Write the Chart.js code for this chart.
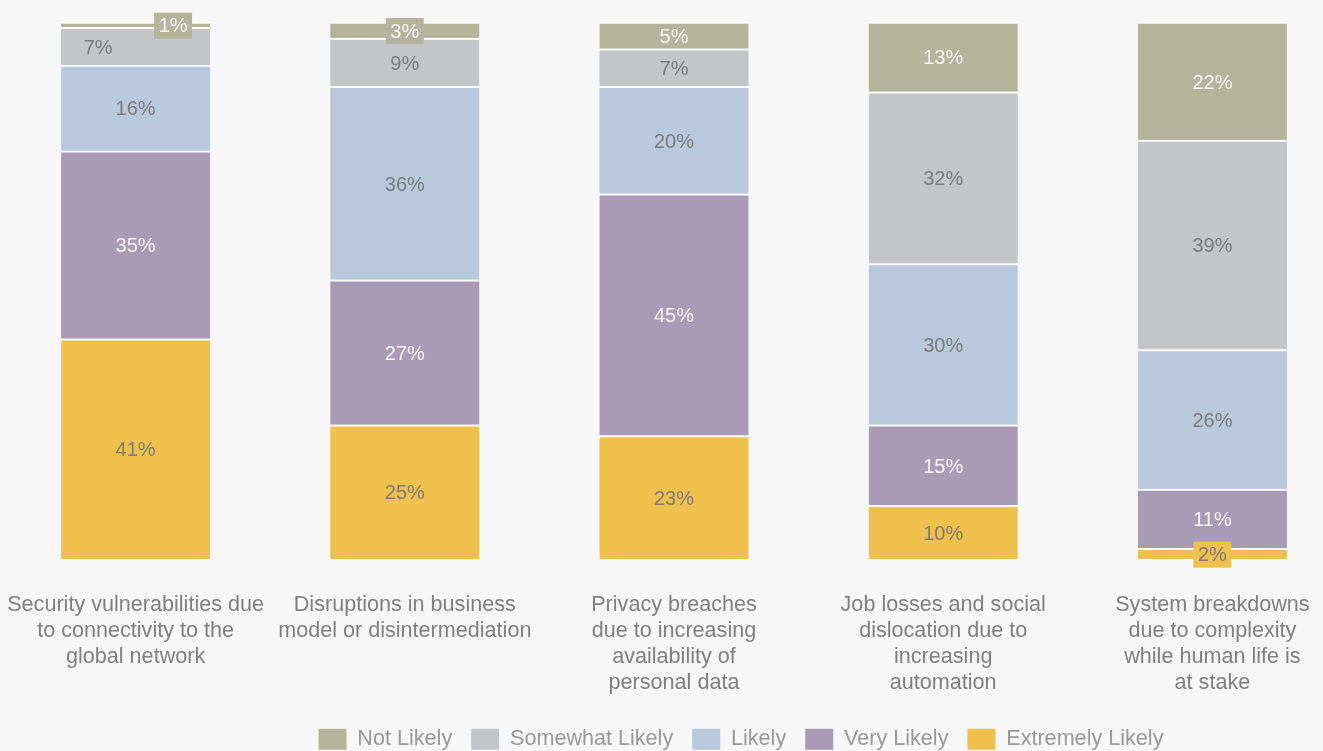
<!DOCTYPE html>
<html>
<head>
<meta charset="utf-8">
<title>Technology risks</title>
<script src="https://cdn.jsdelivr.net/npm/chart.js@4.4.1/dist/chart.umd.min.js"></script>
<style>
    html, body { margin: 0; padding: 0; overflow: hidden; background: #f7f7f7; }
    #riskChart { display: block; }
</style>
</head>
<body>
<canvas id="riskChart" width="1481" height="760"></canvas>
<script>
// Kategori (label sumbu x, sudah dipecah per baris)
const categories = [
    ['Security vulnerabilities due', 'to connectivity to the', 'global network'],
    ['Disruptions in business', 'model or disintermediation'],
    ['Privacy breaches', 'due to increasing', 'availability of', 'personal data'],
    ['Job losses and social', 'dislocation due to', 'increasing', 'automation'],
    ['System breakdowns', 'due to complexity', 'while human life is', 'at stake']
];

// Nilai per seri (persen)
const notLikely       = [1, 3, 5, 13, 22];
const somewhatLikely  = [7, 9, 7, 32, 39];
const likely          = [16, 36, 20, 30, 26];
const veryLikely      = [35, 27, 45, 15, 11];
const extremelyLikely = [41, 25, 23, 10, 2];

// Warna
const colors = {
    'Not Likely': '#b4b49b',
    'Somewhat Likely': '#c4c5c9',
    'Likely': '#b9c9dd',
    'Very Likely': '#a99bb5',
    'Extremely Likely': '#efc04b'
};
const labelTextColors = {
    'Not Likely': '#f5f5f5',
    'Somewhat Likely': '#7b7b7b',
    'Likely': '#7b7b7b',
    'Very Likely': '#f5f5f5',
    'Extremely Likely': '#7b7b7b'
};
// geser label yang bertabrakan (bar pertama)
const labelShift = { 'Not Likely-0': 37.5, 'Somewhat Likely-0': -37.5 };

const FONT = '"Liberation Sans", Arial, sans-serif';
Chart.defaults.font.family = FONT;

function makeSet(label, data) {
    return {
        label: label,
        data: data,
        backgroundColor: colors[label],
        borderColor: '#ffffff',
        borderWidth: { top: 2, left: 0, right: 0, bottom: 0 },
        borderSkipped: false,
        barThickness: 149
    };
}

// Plugin label nilai di tengah segmen
const valueLabels = {
    id: 'valueLabels',
    afterDatasetsDraw(chart) {
        const ctx = chart.ctx;
        ctx.save();
        ctx.font = '20px ' + FONT;
        ctx.textAlign = 'center';
        ctx.textBaseline = 'middle';
        chart.data.datasets.forEach((ds, di) => {
            const meta = chart.getDatasetMeta(di);
            meta.data.forEach((bar, i) => {
                const txt = ds.data[i] + '%';
                const x = bar.x + (labelShift[ds.label + '-' + i] || 0);
                const y = (bar.y + bar.base) / 2 + 2;
                const h = Math.abs(bar.base - bar.y);
                if (h < 22) {
                    const w = ctx.measureText(txt).width + 9;
                    ctx.fillStyle = ds.backgroundColor;
                    ctx.fillRect(x - w / 2, y - 14, w, 26);
                }
                ctx.fillStyle = labelTextColors[ds.label];
                ctx.fillText(txt, x, y);
            });
        });
        ctx.restore();
    }
};

const ctx = document.getElementById('riskChart').getContext('2d');
new Chart(ctx, {
    type: 'bar',
    data: {
        labels: categories,
        datasets: [
            makeSet('Extremely Likely', extremelyLikely),
            makeSet('Very Likely', veryLikely),
            makeSet('Likely', likely),
            makeSet('Somewhat Likely', somewhatLikely),
            makeSet('Not Likely', notLikely)
        ]
    },
    options: {
        responsive: false,
        animation: false,
        devicePixelRatio: 1,
        layout: { padding: { top: 22, left: 1, right: 0, bottom: 0 } },
        plugins: {
            tooltip: { enabled: false },
            legend: {
                position: 'bottom',
                reverse: true,
                labels: {
                    boxWidth: 28,
                    boxHeight: 21,
                    padding: 19,
                    color: '#999999',
                    font: { size: 21.6 },
                    generateLabels: function(chart) {
                        return Chart.defaults.plugins.legend.labels.generateLabels(chart)
                            .map(item => Object.assign(item, { lineWidth: 0 }));
                    }
                }
            }
        },
        scales: {
            x: {
                stacked: true,
                offset: true,
                grid: { display: false, drawTicks: false },
                border: { display: false },
                ticks: {
                    autoSkip: false,
                    maxRotation: 0,
                    padding: 33,
                    color: '#808080',
                    font: { size: 21.6, lineHeight: '26px' }
                },
                afterFit: function(scale) {
                    scale.height = 150.4;
                    scale.paddingLeft = 0;
                    scale.paddingRight = 0;
                }
            },
            y: {
                stacked: true,
                position: 'right',
                min: 0,
                max: 100,
                grid: { display: false, drawTicks: false },
                border: { display: false },
                ticks: { display: false },
                afterFit: function(scale) { scale.width = 134; }
            }
        }
    },
    plugins: [valueLabels]
});
</script>
</body>
</html>
